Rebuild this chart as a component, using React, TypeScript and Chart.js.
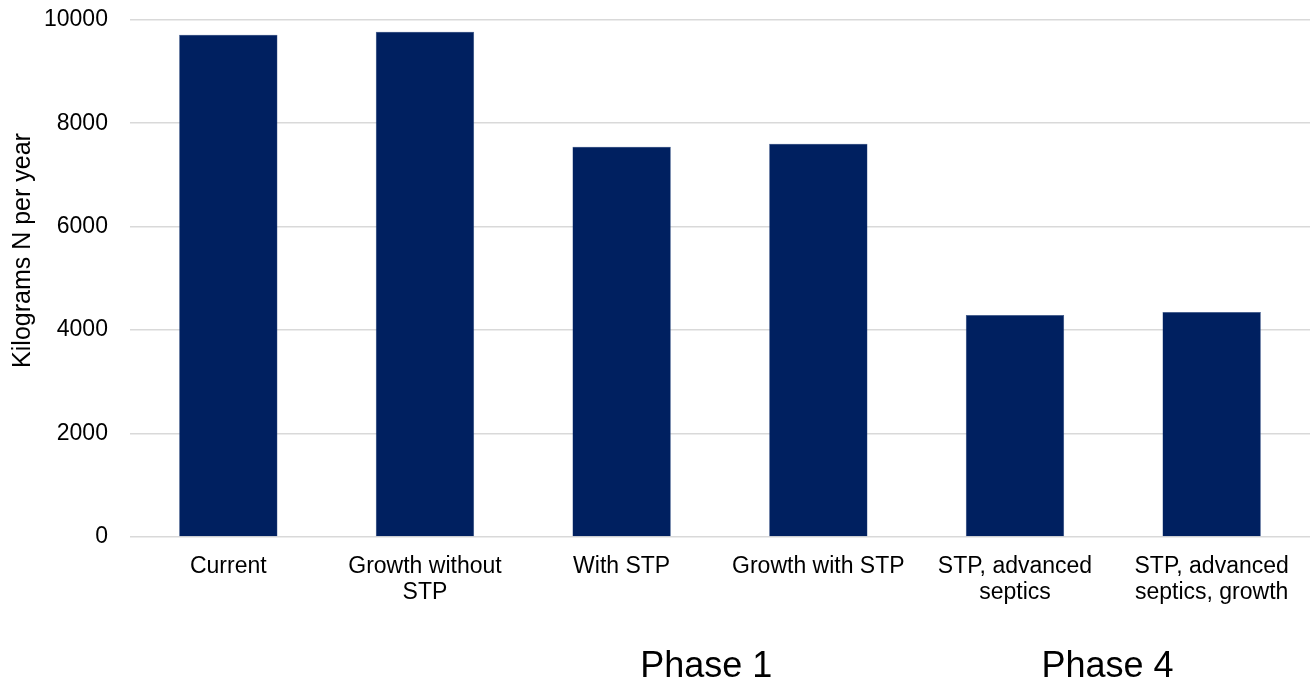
import React, { useEffect, useRef } from "react";
import { Chart, registerables } from "chart.js";

Chart.register(...registerables);

const categories: (string | string[])[] = [
  "Current",
  ["Growth without", "STP"],
  "With STP",
  "Growth with STP",
  ["STP, advanced", "septics"],
  ["STP, advanced", "septics, growth"],
];
const values: number[] = [9710, 9768, 7545, 7602, 4294, 4352];
const phaseLabels: string[] = ["Phase 1", "Phase 4"];
const phasePositions: number[] = [2.43, 4.47];
const yTitle = "Kilograms N per year";

const FONT = "'Liberation Sans', Arial, sans-serif";
const SHIFT = 16;

const extraTextPlugin = {
  id: "extraText",
  afterDraw(chart: any) {
    const ctx = chart.ctx;
    const x = chart.scales.x;
    const y = chart.scales.y;
    ctx.save();
    ctx.fillStyle = "#000000";
    ctx.font = `36px ${FONT}`;
    ctx.textAlign = "center";
    ctx.textBaseline = "middle";
    phaseLabels.forEach((t, i) => {
      ctx.fillText(t, x.getPixelForValue(phasePositions[i]), 667 + SHIFT);
    });
    // y axis title
    ctx.font = `25px ${FONT}`;
    ctx.translate(23, y.getPixelForValue(5540));
    ctx.rotate(-Math.PI / 2);
    ctx.fillText(yTitle, 0, 0);
    ctx.restore();
  },
};

export default function App() {
  const ref = useRef<HTMLCanvasElement | null>(null);
  useEffect(() => {
    if (!ref.current) return;
    const chart = new Chart(ref.current, {
      type: "bar",
      data: {
        labels: categories,
        datasets: [
          {
            data: values,
            backgroundColor: "#002060",
            borderColor: "#2a4a80",
            borderWidth: 0.5,
            categoryPercentage: 1,
            barPercentage: 0.5,
          },
        ],
      },
      options: {
        animation: false,
        responsive: false,
        maintainAspectRatio: false,
        layout: { padding: { top: 0, right: 3, bottom: 61, left: 22 } },
        plugins: {
          legend: { display: false },
          tooltip: { enabled: false },
        },
        scales: {
          x: {
            grid: { display: false, drawTicks: false },
            border: { display: false },
            ticks: {
              color: "#000000",
              font: { family: FONT, size: 23, lineHeight: 1.13 },
              padding: 17,
              maxRotation: 0,
              autoSkip: false,
            },
          },
          y: {
            min: 0,
            max: 10000,
            grid: { color: "#d9d9d9", lineWidth: 1.5, drawTicks: false },
            border: { display: false },
            ticks: {
              stepSize: 2000,
              color: "#000000",
              font: { family: FONT, size: 23 },
              padding: 22,
              callback: (v: any) => String(v),
            },
          },
        },
      },
      plugins: [extraTextPlugin],
    });
    return () => chart.destroy();
  }, []);
  return (
    <div style={{ position: "absolute", left: 0, top: 0, width: 1313, height: 684, overflow: "hidden", background: "#fff" }}>
      <canvas
        ref={ref}
        width={1313}
        height={684 + SHIFT}
        style={{ position: "absolute", left: 0, top: -SHIFT, width: 1313, height: 684 + SHIFT }}
      />
    </div>
  );
}
